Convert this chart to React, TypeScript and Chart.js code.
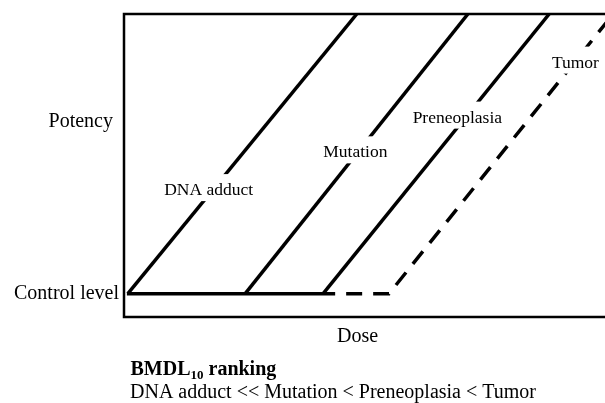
import React, { useEffect, useRef } from "react";
import { Chart, registerables } from "chart.js";

Chart.register(...registerables);

// Dose (x) and potency (y) coordinates of each response curve
const controlDose = [0.6, 43.9];
const controlPotency = [0, 0];
const dnaAdductDose = [0.8, 48.4];
const dnaAdductPotency = [0, 12];
const mutationDose = [25.2, 71.5];
const mutationPotency = [0, 12];
const preneoplasiaDose = [41.4, 88.4];
const preneoplasiaPotency = [0, 12];
const tumorDose = [43.9, 55.1, 101.7];
const tumorPotency = [0, 0, 12];

// Curve labels (centre dose, baseline potency)
const curveLabels = ["DNA adduct", "Mutation", "Preneoplasia", "Tumor"];
const curveLabelDose = [17.6, 48.1, 69.3, 93.85];
const curveLabelPotency = [4.23, 5.85, 7.34, 9.7];

// Axis texts
const yAxisLabel = "Potency";
const controlLabel = "Control level";
const xAxisLabel = "Dose";
const rankingTitle = "BMDL";
const rankingSub = "10";
const rankingTitleRest = " ranking";
const rankingText = "DNA adduct << Mutation < Preneoplasia < Tumor";

const FONT = '"Liberation Serif", "Times New Roman", serif';

const pts = (xs: number[], ys: number[]) => xs.map((x, i) => ({ x, y: ys[i] }));

export default function App() {
  const ref = useRef<HTMLCanvasElement | null>(null);

  useEffect(() => {
    if (!ref.current) return;

    const overlay = {
      id: "overlay",
      afterDraw(chart: any) {
        const { ctx, chartArea, scales } = chart;
        const xs = scales.x;
        const ys = scales.y;
        ctx.save();
        // curve labels with white background
        ctx.font = `17.5px ${FONT}`;
        ctx.textAlign = "center";
        ctx.textBaseline = "alphabetic";
        curveLabels.forEach((t, i) => {
          const px = xs.getPixelForValue(curveLabelDose[i]);
          const py = ys.getPixelForValue(curveLabelPotency[i]);
          const w = ctx.measureText(t).width;
          ctx.fillStyle = "#ffffff";
          ctx.fillRect(px - w / 2 - 3, py - 21, w + 6, 27);
          ctx.fillStyle = "#000000";
          ctx.fillText(t, px, py);
        });
        // frame
        ctx.strokeStyle = "#000000";
        ctx.lineWidth = 2.5;
        ctx.beginPath();
        ctx.moveTo(chartArea.right + 5, chartArea.top);
        ctx.lineTo(chartArea.left, chartArea.top);
        ctx.lineTo(chartArea.left, chartArea.bottom);
        ctx.lineTo(chartArea.right + 5, chartArea.bottom);
        ctx.stroke();
        // axis texts
        ctx.fillStyle = "#000000";
        ctx.font = `20px ${FONT}`;
        ctx.textAlign = "right";
        ctx.fillText(yAxisLabel, chartArea.left - 11, 127);
        ctx.fillText(controlLabel, chartArea.left - 5, ys.getPixelForValue(0) + 5.5);
        ctx.textAlign = "center";
        ctx.fillText(xAxisLabel, 357.5, 342);
        // ranking
        ctx.textAlign = "left";
        ctx.font = `bold 20px ${FONT}`;
        let x = 130.5;
        ctx.fillText(rankingTitle, x, 375);
        x += ctx.measureText(rankingTitle).width;
        ctx.font = `bold 13px ${FONT}`;
        ctx.fillText(rankingSub, x, 379);
        x += ctx.measureText(rankingSub).width;
        ctx.font = `bold 20px ${FONT}`;
        ctx.fillText(rankingTitleRest, x, 375);
        ctx.font = `20px ${FONT}`;
        ctx.fillText(rankingText, 130, 398);
        ctx.restore();
      },
    };

    const solid = {
      borderColor: "#000000",
      borderWidth: 3.5,
      pointRadius: 0,
      tension: 0,
      fill: false,
      borderCapStyle: "butt",
    };

    const chart = new Chart(ref.current, {
      type: "line",
      data: {
        datasets: [
          { ...solid, label: "Control", data: pts(controlDose, controlPotency) },
          { ...solid, label: "DNA adduct", data: pts(dnaAdductDose, dnaAdductPotency) },
          { ...solid, label: "Mutation", data: pts(mutationDose, mutationPotency) },
          { ...solid, label: "Preneoplasia", data: pts(preneoplasiaDose, preneoplasiaPotency) },
          {
            ...solid,
            label: "Tumor",
            data: pts(tumorDose, tumorPotency),
            borderDash: [16, 11],
            borderDashOffset: 16,
            borderJoinStyle: "miter",
          },
        ],
      } as any,
      options: {
        animation: false,
        responsive: false,
        layout: { padding: { left: 124, top: 14, right: 0, bottom: 86 } },
        plugins: { legend: { display: false }, tooltip: { enabled: false } },
        scales: {
          x: { type: "linear", min: 0, max: 100, display: false },
          y: { type: "linear", min: -1, max: 12, display: false },
        },
      } as any,
      plugins: [overlay],
    });
    return () => chart.destroy();
  }, []);

  return (
    <div style={{ position: "fixed", left: 0, top: 0, width: 605, height: 403, background: "#fff" }}>
      <canvas ref={ref} width={605} height={403} style={{ display: "block" }} />
    </div>
  );
}
